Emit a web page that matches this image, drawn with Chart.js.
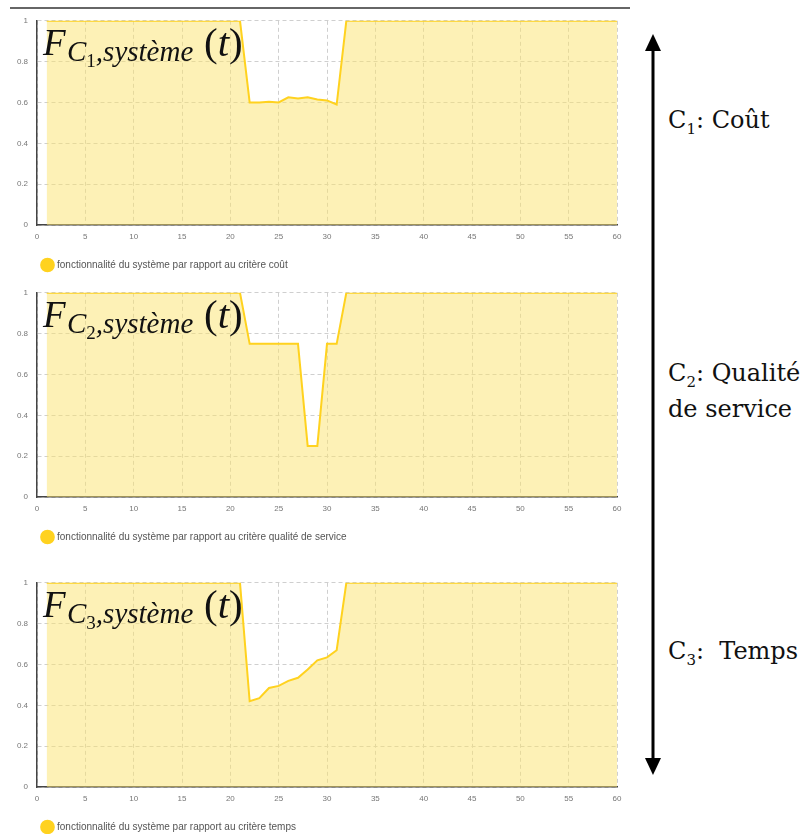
<!DOCTYPE html>
<html>
<head>
<meta charset="utf-8">
<script src="https://cdn.jsdelivr.net/npm/chart.js@4"></script>
<style>
  html, body { margin: 0; padding: 0; background: #fff; }
  body { width: 809px; height: 834px; position: relative; overflow: hidden; }
  .topline { position: absolute; left: 10px; top: 7px; width: 620px; height: 2px; background: #666; }
  .graph { position: absolute; left: 0; width: 630px; height: 273px; }
  .formule { position: absolute; font-family: "Liberation Serif", serif; color: #111; white-space: nowrap; }
  .formule .F { position: absolute; font-style: italic; font-size: 37px; }
  .formule .sub { position: absolute; font-style: italic; font-size: 29px; }
  .formule .sub small { font-size: 19px; font-style: normal; position: relative; top: 6px; }
  .formule .par { position: absolute; font-size: 41px; }
  .formule .par i { font-style: italic; }
  .crit { position: absolute; left: 668px; font-family: "DejaVu Serif", serif; font-size: 24px; color: #111; line-height: 36px; white-space: nowrap; }
  .crit sub { font-size: 15px; line-height: 0; }
  svg.fleche { position: absolute; left: 640px; top: 30px; }
</style>
</head>
<body>
<div class="topline"></div>

<canvas id="g1" class="graph" width="630" height="273" style="top:7px"></canvas>
<canvas id="g2" class="graph" width="630" height="273" style="top:279px"></canvas>
<canvas id="g3" class="graph" width="630" height="273" style="top:569px"></canvas>

<div class="formule" style="left:0;top:0">
  <span class="F" style="left:43px;top:21px">F</span>
  <span class="sub" style="left:67px;top:35px">C<small>1</small>,système</span>
  <span class="par" style="left:204px;top:18px">(<i>t</i>)</span>
</div>
<div class="formule" style="left:0;top:272px">
  <span class="F" style="left:43px;top:21px">F</span>
  <span class="sub" style="left:67px;top:35px">C<small>2</small>,système</span>
  <span class="par" style="left:204px;top:18px">(<i>t</i>)</span>
</div>
<div class="formule" style="left:0;top:562px">
  <span class="F" style="left:43px;top:21px">F</span>
  <span class="sub" style="left:67px;top:35px">C<small>3</small>,système</span>
  <span class="par" style="left:204px;top:18px">(<i>t</i>)</span>
</div>

<svg class="fleche" width="26" height="750">
  <line x1="13" y1="14" x2="13" y2="733" stroke="#000" stroke-width="3"/>
  <polygon points="13,4 5,21 21,21" fill="#000"/>
  <polygon points="13,745 5,728 21,728" fill="#000"/>
</svg>

<div class="crit" style="top:102px">C<sub>1</sub>: Coût</div>
<div class="crit" style="top:355px">C<sub>2</sub>: Qualité<br>de service</div>
<div class="crit" style="top:633px">C<sub>3</sub>:&nbsp; Temps</div>

<script>
// temps t (axe x)
const instants = [
  1, 2, 3, 4, 5, 6, 7, 8, 9, 10, 11, 12, 13, 14, 15, 16, 17, 18, 19, 20,
  21, 22, 23, 24, 25, 26, 27, 28, 29, 30, 31, 32, 33, 34, 35, 36, 37, 38, 39, 40,
  41, 42, 43, 44, 45, 46, 47, 48, 49, 50, 51, 52, 53, 54, 55, 56, 57, 58, 59, 60
];

// critère coût
const fonctCout = [
  1, 1, 1, 1, 1, 1, 1, 1, 1, 1, 1, 1, 1, 1, 1, 1, 1, 1, 1, 1,
  1, 0.6, 0.6, 0.603, 0.6, 0.625, 0.62, 0.625, 0.615, 0.61, 0.59, 1, 1, 1, 1, 1, 1, 1, 1, 1,
  1, 1, 1, 1, 1, 1, 1, 1, 1, 1, 1, 1, 1, 1, 1, 1, 1, 1, 1, 1
];

// critère qualité de service
const fonctQualite = [
  1, 1, 1, 1, 1, 1, 1, 1, 1, 1, 1, 1, 1, 1, 1, 1, 1, 1, 1, 1,
  1, 0.75, 0.75, 0.75, 0.75, 0.75, 0.75, 0.25, 0.25, 0.75, 0.75, 1, 1, 1, 1, 1, 1, 1, 1, 1,
  1, 1, 1, 1, 1, 1, 1, 1, 1, 1, 1, 1, 1, 1, 1, 1, 1, 1, 1, 1
];

// critère temps
const fonctTemps = [
  1, 1, 1, 1, 1, 1, 1, 1, 1, 1, 1, 1, 1, 1, 1, 1, 1, 1, 1, 1,
  1, 0.42, 0.435, 0.485, 0.495, 0.52, 0.535, 0.575, 0.62, 0.635, 0.67, 1, 1, 1, 1, 1, 1, 1, 1, 1,
  1, 1, 1, 1, 1, 1, 1, 1, 1, 1, 1, 1, 1, 1, 1, 1, 1, 1, 1, 1
];

const legendes = [
  "fonctionnalité du système par rapport au critère coût",
  "fonctionnalité du système par rapport au critère qualité de service",
  "fonctionnalité du système par rapport au critère temps"
];

const JAUNE = "#FFD21F";
const REMPLI = "rgba(252, 228, 110, 0.5)";
const GRILLE = "#cfcfcf";
const POLICE = "Liberation Sans, Arial, sans-serif";

// la légende commence sous le graphe, pas au bord du canvas
const decalageLegende = {
  id: "decalageLegende",
  afterLayout(chart) {
    chart.legend.left += 14;
    chart.legend.right += 14;
  }
};

function tracer(id, valeurs, legende) {
  const ctx = document.getElementById(id).getContext("2d");
  return new Chart(ctx, {
    type: "line",
    data: {
      datasets: [{
        label: legende,
        data: instants.map((t, i) => ({ x: t, y: valeurs[i] })),
        borderColor: JAUNE,
        backgroundColor: REMPLI,
        pointBackgroundColor: JAUNE,
        pointBorderColor: JAUNE,
        borderWidth: 2,
        pointRadius: 0,
        tension: 0,
        fill: "origin"
      }]
    },
    plugins: [decalageLegende],
    options: {
      responsive: false,
      animation: false,
      layout: { padding: { left: 14, top: 8, right: 13, bottom: 0 } },
      plugins: {
        tooltip: { enabled: false },
        legend: {
          position: "bottom",
          align: "start",
          labels: {
            usePointStyle: true,
            pointStyle: "circle",
            boxHeight: 9,
            boxWidth: 9,
            padding: 15,
            color: "#555",
            font: { family: POLICE, size: 10 }
          }
        }
      },
      scales: {
        x: {
          type: "linear",
          min: 0,
          max: 60,
          ticks: { stepSize: 5, color: "#777", padding: 7, font: { family: POLICE, size: 8 } },
          grid: { color: GRILLE, drawTicks: false },
          border: { display: true, color: "#444", width: 1.5, dash: [4, 3] },
          afterFit: (s) => { s.height = 20; }
        },
        y: {
          min: 0,
          max: 1,
          ticks: {
            stepSize: 0.2,
            color: "#777",
            padding: 9,
            font: { family: POLICE, size: 8 },
            callback: (v) => String(+Number(v).toFixed(2))
          },
          grid: { color: GRILLE, drawTicks: false },
          border: { display: true, color: "#444", width: 1.5, dash: [4, 3] },
          afterFit: (s) => { s.width = 23; }
        }
      }
    }
  });
}

tracer("g1", fonctCout, legendes[0]);
tracer("g2", fonctQualite, legendes[1]);
tracer("g3", fonctTemps, legendes[2]);
</script>
</body>
</html>
